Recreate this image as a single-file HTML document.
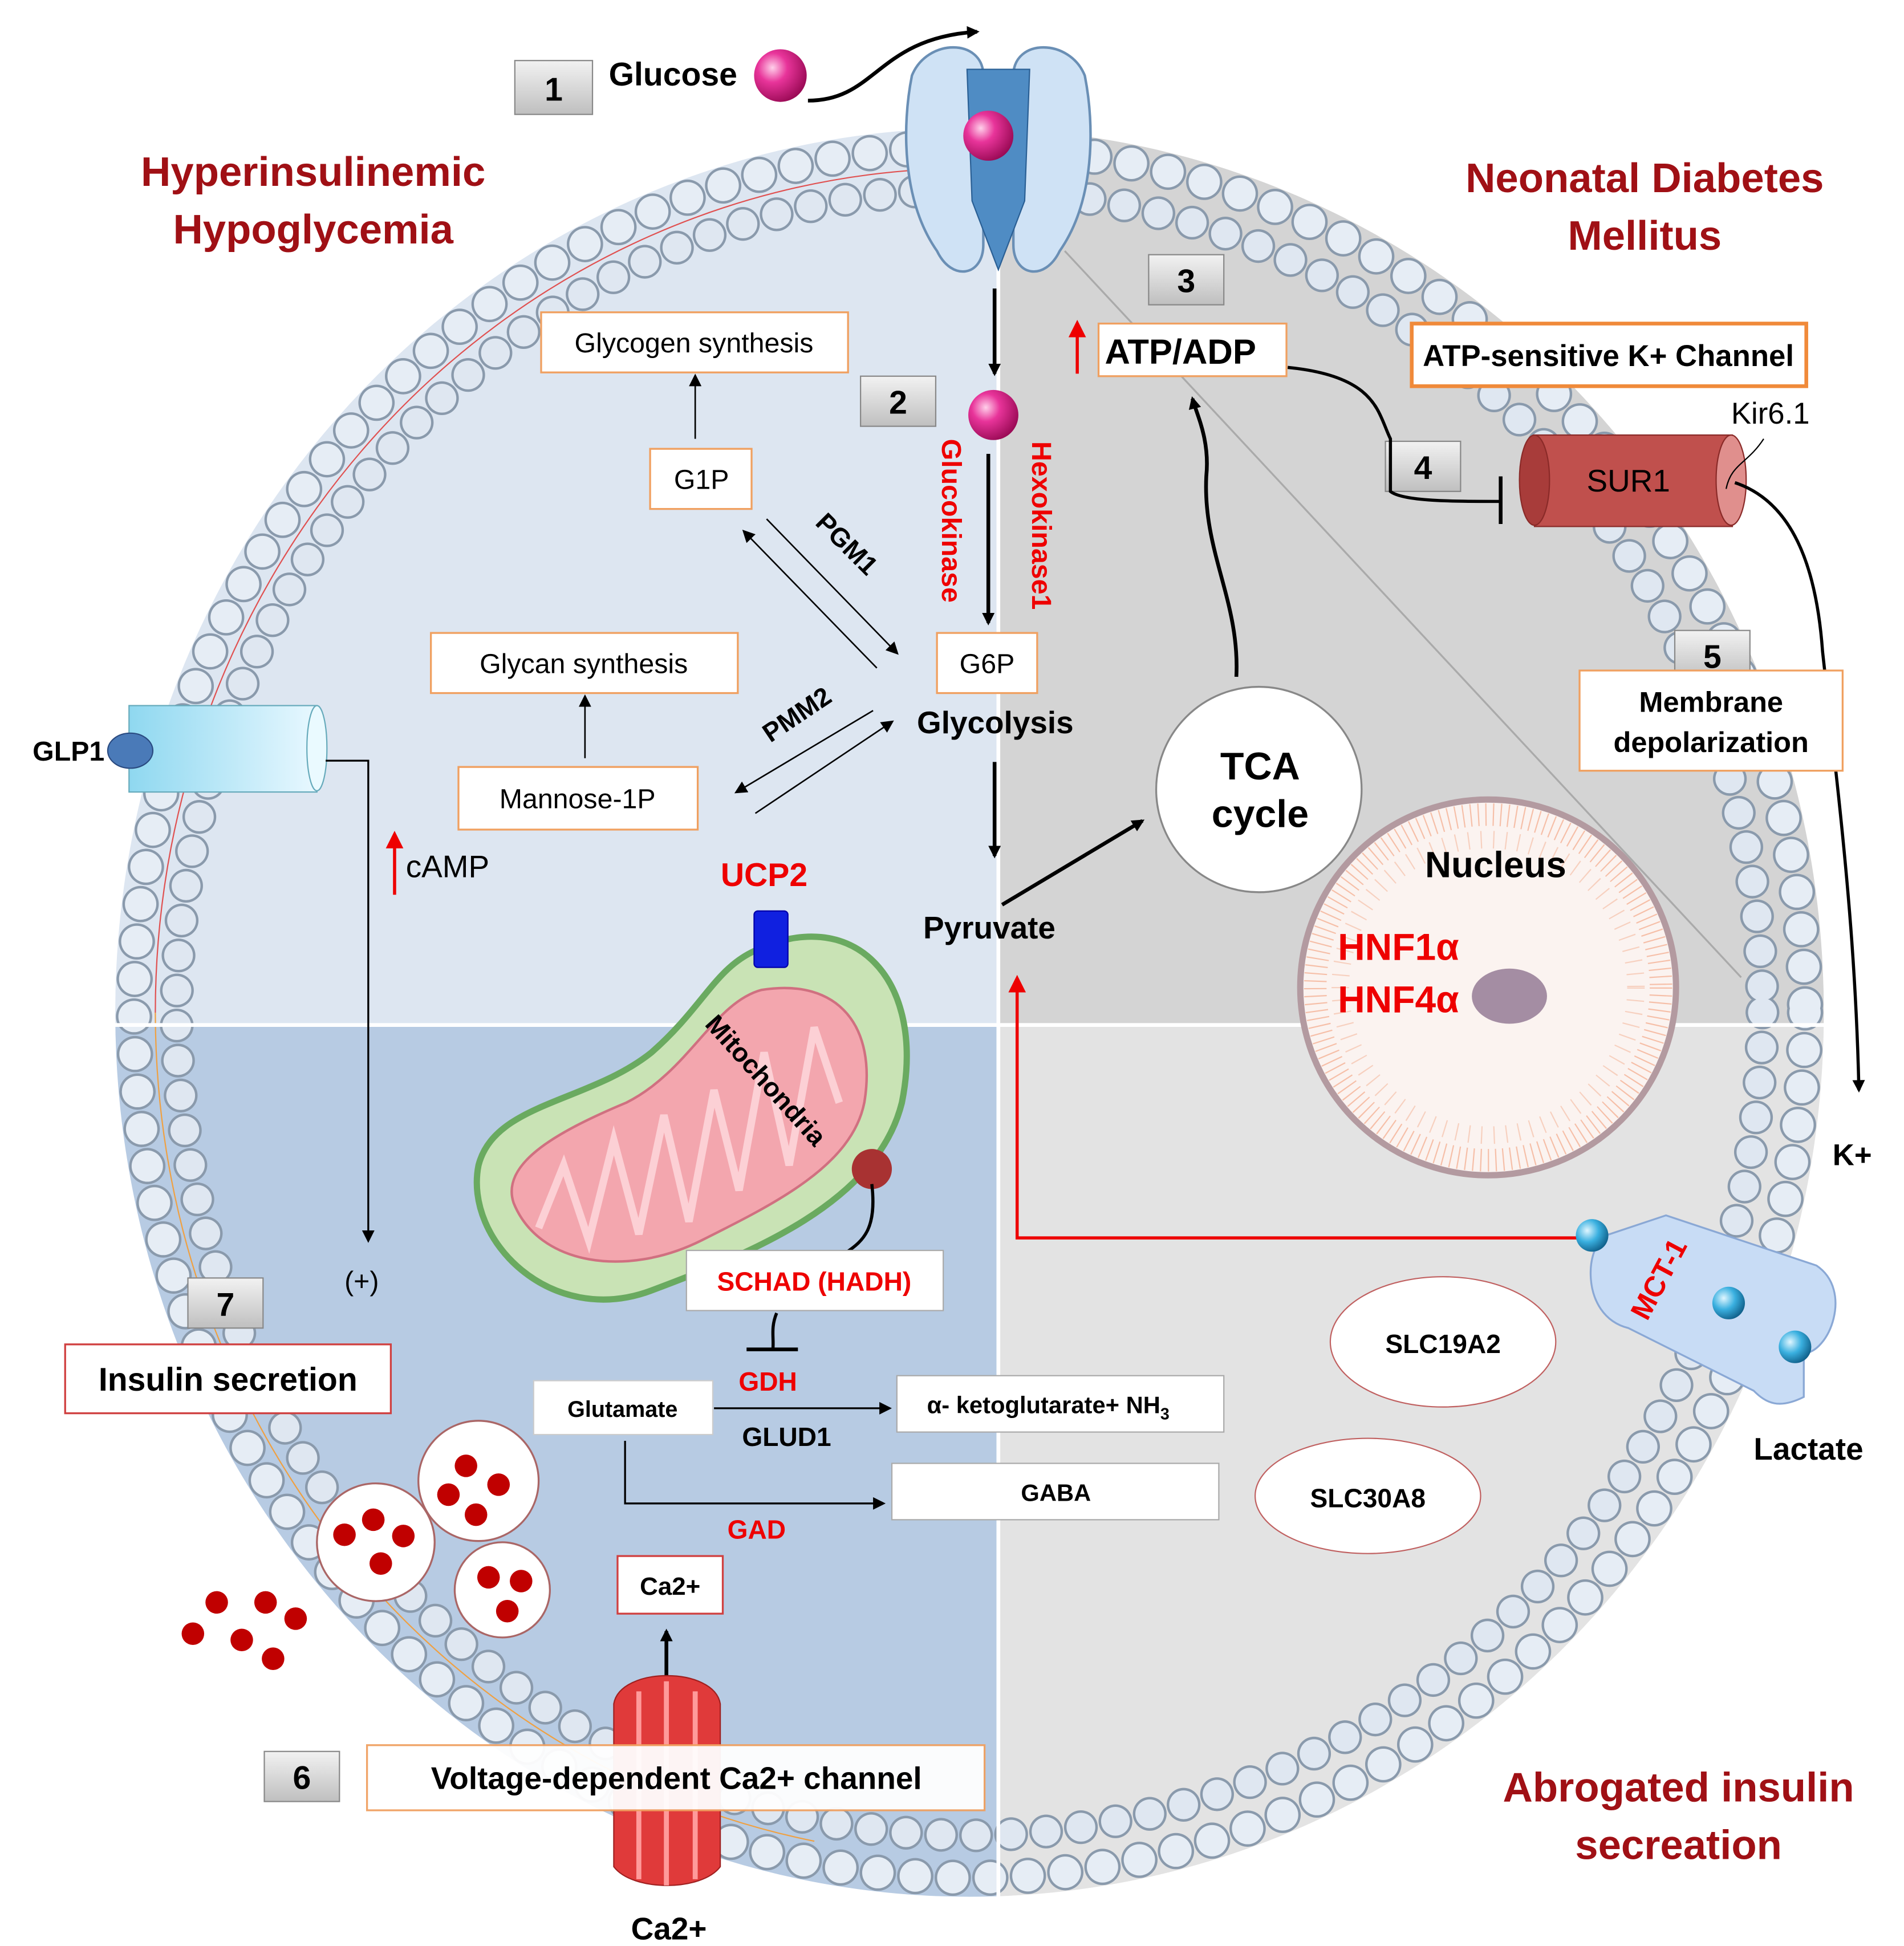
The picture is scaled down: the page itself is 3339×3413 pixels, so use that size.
<!DOCTYPE html>
<html><head><meta charset="utf-8"><style>
html,body{margin:0;padding:0;background:#fff;}
svg{display:block;}
text{font-family:"Liberation Sans",sans-serif;}
</style></head><body>
<svg width="3339" height="3413" viewBox="0 0 1520 1553" xmlns="http://www.w3.org/2000/svg">
<defs>
<clipPath id="cell"><ellipse cx="774" cy="808" rx="682" ry="706"/></clipPath>
<linearGradient id="bx" x1="0" y1="0" x2="0" y2="1"><stop offset="0" stop-color="#f2f2f2"/><stop offset="1" stop-color="#bfbfbf"/></linearGradient>
<linearGradient id="glp" x1="0" y1="0" x2="1" y2="0"><stop offset="0" stop-color="#8fd8f0"/><stop offset="1" stop-color="#e8f8ff"/></linearGradient>
<radialGradient id="pink" cx="0.35" cy="0.35" r="0.7"><stop offset="0" stop-color="#ffd0ea"/><stop offset="0.4" stop-color="#e8349a"/><stop offset="1" stop-color="#9a0a55"/></radialGradient>
<radialGradient id="blueb" cx="0.35" cy="0.35" r="0.7"><stop offset="0" stop-color="#e0f6ff"/><stop offset="0.5" stop-color="#3ab0e0"/><stop offset="1" stop-color="#10608a"/></radialGradient>
<marker id="ah" markerWidth="10" markerHeight="10" refX="8" refY="5" orient="auto" markerUnits="userSpaceOnUse"><path d="M0,0 L10,5 L0,10 z" fill="#000"/></marker>
<marker id="ahr" markerWidth="14" markerHeight="14" refX="7" refY="7" orient="auto" markerUnits="userSpaceOnUse"><path d="M0,0 L14,7 L0,14 z" fill="#e00"/></marker>
</defs>

<g clip-path="url(#cell)">
<rect x="0" y="0" width="797" height="818" fill="#dde6f1"/>
<rect x="797" y="0" width="800" height="818" fill="#d4d4d4"/>
<rect x="0" y="818" width="797" height="800" fill="#b7cbe3"/>
<rect x="797" y="818" width="800" height="800" fill="#e3e3e3"/>
</g>
<ellipse cx="774" cy="808" rx="667" ry="691" fill="none" stroke="#8a9aac" stroke-width="29" stroke-dasharray="0 30" stroke-linecap="round"/>
<ellipse cx="774" cy="808" rx="667" ry="691" fill="none" stroke="#e6edf5" stroke-width="25" stroke-dasharray="0 30" stroke-linecap="round"/>
<ellipse cx="774" cy="808" rx="633" ry="657" fill="none" stroke="#8a9aac" stroke-width="27" stroke-dasharray="0 28" stroke-linecap="round"/>
<ellipse cx="774" cy="808" rx="633" ry="657" fill="none" stroke="#dfe7f1" stroke-width="23" stroke-dasharray="0 28" stroke-linecap="round"/>
<ellipse cx="774" cy="808" rx="650" ry="674" fill="none" stroke="#e05050" stroke-width="1" pathLength="100" stroke-dasharray="0 50 24 26"/>
<ellipse cx="774" cy="808" rx="650" ry="674" fill="none" stroke="#f0a040" stroke-width="1" pathLength="100" stroke-dasharray="0 28 22 50"/>
<line x1="797" y1="818" x2="1460" y2="818" stroke="#fff" stroke-width="3"/>
<line x1="797" y1="120" x2="797" y2="1515" stroke="#fff" stroke-width="3"/>
<line x1="90" y1="818" x2="797" y2="818" stroke="#fff" stroke-width="3"/>
<line x1="850" y1="200" x2="1390" y2="780" stroke="#aaa" stroke-width="1.5"/>

<g font-weight="bold" fill="#a01015" font-size="33" text-anchor="middle">
<text x="250" y="148">Hyperinsulinemic</text><text x="250" y="194">Hypoglycemia</text>
<text x="1313" y="153">Neonatal Diabetes</text><text x="1313" y="199">Mellitus</text>
<text x="1340" y="1438">Abrogated insulin</text><text x="1340" y="1484">secreation</text>
</g>

<g font-weight="bold" font-size="26" text-anchor="middle">
<rect x="411" y="48" width="62" height="43" fill="url(#bx)" stroke="#888"/><text x="442" y="80">1</text>
<rect x="687" y="300" width="60" height="40" fill="url(#bx)" stroke="#888"/><text x="717" y="330">2</text>
<rect x="917" y="203" width="60" height="40" fill="url(#bx)" stroke="#888"/><text x="947" y="233">3</text>
<rect x="1106" y="352" width="60" height="40" fill="url(#bx)" stroke="#888"/><text x="1136" y="382">4</text>
<rect x="1337" y="503" width="60" height="40" fill="url(#bx)" stroke="#888"/><text x="1367" y="533">5</text>
<rect x="211" y="1398" width="60" height="40" fill="url(#bx)" stroke="#888"/><text x="241" y="1428">6</text>
<rect x="150" y="1020" width="60" height="40" fill="url(#bx)" stroke="#888"/><text x="180" y="1050">7</text>
</g>

<text x="486" y="68" font-size="26" font-weight="bold">Glucose</text>
<circle cx="623" cy="60" r="21" fill="url(#pink)"/>
<path d="M645,80 C700,80 700,30 780,25" fill="none" stroke="#000" stroke-width="3" marker-end="url(#ah)"/>
<path d="M728,60 C740,30 785,30 785,60 L785,195 C785,220 760,225 748,200 C720,160 720,100 728,60z" fill="#cfe2f5" stroke="#6a8fb5" stroke-width="2"/>
<path d="M866,60 C854,30 809,30 809,60 L809,195 C809,220 834,225 846,200 C874,160 874,100 866,60z" fill="#cfe2f5" stroke="#6a8fb5" stroke-width="2"/>
<path d="M772,55 L822,55 L818,160 L797,215 L776,160z" fill="#4f8cc4" stroke="#2a5f94"/>
<circle cx="789" cy="108" r="20" fill="url(#pink)"/>
<line x1="794" y1="230" x2="794" y2="298" stroke="#000" stroke-width="3" marker-end="url(#ah)"/>
<circle cx="793" cy="331" r="20" fill="url(#pink)"/>
<line x1="789" y1="362" x2="789" y2="497" stroke="#000" stroke-width="3" marker-end="url(#ah)"/>
<text transform="translate(752,350) rotate(90)" font-size="22" font-weight="bold" fill="#e00">Glucokinase</text>
<text transform="translate(824,352) rotate(90)" font-size="22" font-weight="bold" fill="#e00">Hexokinase1</text>

<g font-size="22" text-anchor="middle" fill="#000">
<rect x="432" y="249" width="245" height="48" fill="#fff" stroke="#f0a060" stroke-width="1.5"/><text x="554" y="281">Glycogen synthesis</text>
<rect x="519" y="358" width="81" height="48" fill="#fff" stroke="#f0a060" stroke-width="1.5"/><text x="560" y="390">G1P</text>
<rect x="344" y="505" width="245" height="48" fill="#fff" stroke="#f0a060" stroke-width="1.5"/><text x="466" y="537">Glycan synthesis</text>
<rect x="366" y="612" width="191" height="50" fill="#fff" stroke="#f0a060" stroke-width="1.5"/><text x="461" y="645">Mannose-1P</text>
<rect x="748" y="505" width="80" height="48" fill="#fff" stroke="#f0a060" stroke-width="1.5"/><text x="788" y="537">G6P</text>
</g>
<line x1="555" y1="350" x2="555" y2="300" stroke="#000" stroke-width="1.2" marker-end="url(#ah)"/>
<line x1="467" y1="605" x2="467" y2="556" stroke="#000" stroke-width="1.2" marker-end="url(#ah)"/>
<line x1="612" y1="414" x2="716" y2="521" stroke="#000" stroke-width="1.2" marker-end="url(#ah)"/>
<line x1="700" y1="533" x2="594" y2="424" stroke="#000" stroke-width="1.2" marker-end="url(#ah)"/>
<line x1="697" y1="567" x2="588" y2="632" stroke="#000" stroke-width="1.2" marker-end="url(#ah)"/>
<line x1="603" y1="649" x2="712" y2="576" stroke="#000" stroke-width="1.2" marker-end="url(#ah)"/>
<text transform="translate(650,418) rotate(45)" font-size="21" font-weight="bold">PGM1</text>
<text transform="translate(615,593) rotate(-34)" font-size="21" font-weight="bold">PMM2</text>
<text x="732" y="585" font-size="25" font-weight="bold">Glycolysis</text>
<line x1="794" y1="608" x2="794" y2="683" stroke="#000" stroke-width="3" marker-end="url(#ah)"/>
<text x="737" y="749" font-size="25" font-weight="bold">Pyruvate</text>
<line x1="800" y1="722" x2="912" y2="655" stroke="#000" stroke-width="3" marker-end="url(#ah)"/>
<circle cx="1005" cy="630" r="82" fill="#fff" stroke="#888" stroke-width="1.5"/>
<text x="1006" y="622" font-size="31" font-weight="bold" text-anchor="middle">TCA</text>
<text x="1006" y="660" font-size="31" font-weight="bold" text-anchor="middle">cycle</text>
<path d="M987,540 C990,480 960,440 963,380 C966,350 955,330 952,318" fill="none" stroke="#000" stroke-width="3" marker-end="url(#ah)"/>

<line x1="860" y1="298" x2="860" y2="262" stroke="#e00" stroke-width="2.5" marker-end="url(#ahr)"/>
<rect x="877" y="258" width="150" height="42" fill="#fff" stroke="#f0a060" stroke-width="1.5"/>
<text x="882" y="290" font-size="28" font-weight="bold">ATP/ADP</text>
<rect x="1127" y="258" width="315" height="50" fill="#fff" stroke="#f08a3a" stroke-width="3"/>
<text x="1284" y="292" font-size="24" font-weight="bold" text-anchor="middle">ATP-sensitive K+ Channel</text>
<path d="M1028,293 C1100,300 1100,330 1110,350 L1110,392 C1120,400 1160,400 1198,400" fill="none" stroke="#000" stroke-width="2.5"/>
<line x1="1198" y1="380" x2="1198" y2="418" stroke="#000" stroke-width="3"/>
<rect x="1225" y="347" width="158" height="73" fill="#c0504d" stroke="#8a2a28"/>
<ellipse cx="1225" cy="383" rx="12" ry="36" fill="#a83c3a" stroke="#8a2a28"/>
<ellipse cx="1382" cy="383" rx="12" ry="36" fill="#e08f8d" stroke="#8a2a28"/>
<text x="1300" y="392" font-size="25" text-anchor="middle">SUR1</text>
<text x="1382" y="338" font-size="24">Kir6.1</text>
<path d="M1378,390 C1382,370 1395,370 1408,350" fill="none" stroke="#000" stroke-width="1"/>
<path d="M1385,385 C1430,400 1450,450 1455,520 L1465,610 C1475,700 1482,780 1484,870" fill="none" stroke="#000" stroke-width="2.5" marker-end="url(#ah)"/>
<text x="1463" y="930" font-size="24" font-weight="bold">K+</text>
<rect x="1261" y="535" width="210" height="80" fill="#fff" stroke="#f0a060" stroke-width="1.5"/>
<text x="1366" y="568" font-size="23" font-weight="bold" text-anchor="middle">Membrane</text>
<text x="1366" y="600" font-size="23" font-weight="bold" text-anchor="middle">depolarization</text>

<circle cx="1188" cy="788" r="150" fill="#fbf3f0" stroke="#b39aa0" stroke-width="5"/>
<circle cx="1188" cy="788" r="138" fill="none" stroke="#f08050" stroke-width="18" stroke-dasharray="1 5" opacity="0.45"/>
<circle cx="1188" cy="788" r="118" fill="none" stroke="#f08050" stroke-width="14" stroke-dasharray="1 9" opacity="0.3"/>
<ellipse cx="1205" cy="795" rx="30" ry="22" fill="#6a4a70" opacity="0.6"/>
<text x="1194" y="700" font-size="29" font-weight="bold" text-anchor="middle">Nucleus</text>
<text x="1068" y="766" font-size="30" font-weight="bold" fill="#e00">HNF1α</text>
<text x="1068" y="808" font-size="30" font-weight="bold" fill="#e00">HNF4α</text>

<rect x="103" y="563" width="150" height="69" fill="url(#glp)" stroke="#6ab"/>
<ellipse cx="253" cy="597" rx="8" ry="34" fill="#eafaff" stroke="#6ab"/>
<ellipse cx="104" cy="599" rx="18" ry="14" fill="#4a7ab8" stroke="#2a4a80"/>
<text x="26" y="607" font-size="22" font-weight="bold">GLP1</text>
<path d="M260,607 L294,607 L294,990" fill="none" stroke="#000" stroke-width="1.5" marker-end="url(#ah)"/>
<text x="275" y="1030" font-size="22">(+)</text>
<line x1="315" y1="714" x2="315" y2="670" stroke="#e00" stroke-width="2.5" marker-end="url(#ahr)"/>
<text x="324" y="700" font-size="25">cAMP</text>

<text x="610" y="707" font-size="26" font-weight="bold" fill="#e00" text-anchor="middle">UCP2</text>
<path d="M600,760 C680,720 740,780 720,880 C700,960 600,1000 520,1030 C440,1060 370,990 382,930 C395,880 470,880 520,840 C560,805 570,775 600,760z" fill="#c9e3b5" stroke="#6aaa60" stroke-width="5"/>
<path d="M608,790 C670,780 700,820 690,880 C680,930 620,960 560,990 C500,1020 430,1010 410,960 C400,930 440,905 500,880 C550,855 570,800 608,790z" fill="#f3a6ae" stroke="#d07080" stroke-width="2"/>
<path d="M430,980 L450,930 L470,990 L490,910 L510,985 L530,890 L550,975 L570,870 L590,950 L610,840 L630,930 L650,820 L670,880" fill="none" stroke="#fcd0d5" stroke-width="6"/>
<rect x="602" y="727" width="27" height="45" fill="#1020e0" stroke="#00a" rx="3"/>
<text transform="translate(562,818) rotate(48)" font-size="21" font-weight="bold">Mitochondria</text>
<circle cx="696" cy="933" r="16" fill="#a83232"/>
<path d="M696,945 C700,980 690,990 675,1000" fill="none" stroke="#000" stroke-width="2.5"/>
<rect x="548" y="998" width="205" height="48" fill="#fff" stroke="#aaa"/>
<text x="650" y="1030" font-size="21" font-weight="bold" fill="#e00" text-anchor="middle">SCHAD (HADH)</text>
<path d="M620,1048 C615,1060 618,1068 617,1077" fill="none" stroke="#000" stroke-width="2.5"/>
<line x1="596" y1="1077" x2="637" y2="1077" stroke="#000" stroke-width="3"/>
<text x="613" y="1110" font-size="21" font-weight="bold" fill="#e00" text-anchor="middle">GDH</text>
<rect x="426" y="1102" width="143" height="43" fill="#fff" stroke="#ccc"/>
<text x="497" y="1131" font-size="18" font-weight="bold" text-anchor="middle">Glutamate</text>
<line x1="570" y1="1124" x2="710" y2="1124" stroke="#000" stroke-width="1.5" marker-end="url(#ah)"/>
<text x="628" y="1154" font-size="21" font-weight="bold" text-anchor="middle">GLUD1</text>
<rect x="716" y="1098" width="261" height="45" fill="#fff" stroke="#aaa"/>
<text x="740" y="1128" font-size="19" font-weight="bold">α- ketoglutarate+ NH<tspan font-size="13" dy="5">3</tspan></text>
<path d="M499,1150 L499,1200 L705,1200" fill="none" stroke="#000" stroke-width="1.5" marker-end="url(#ah)"/>
<rect x="712" y="1168" width="261" height="45" fill="#fff" stroke="#aaa"/>
<text x="843" y="1198" font-size="19" font-weight="bold" text-anchor="middle">GABA</text>
<text x="604" y="1228" font-size="21" font-weight="bold" fill="#e00" text-anchor="middle">GAD</text>

<path d="M1260,988 L812,988 L812,785" fill="none" stroke="#e00" stroke-width="2.5" marker-end="url(#ahr)"/>
<path d="M1285,985 L1330,970 L1450,1010 C1480,1030 1460,1080 1440,1080 L1440,1115 C1420,1125 1410,1120 1400,1110 L1300,1060 C1260,1050 1265,990 1285,985z" fill="#c8dcf5" stroke="#8aa8d5" stroke-width="1.5"/>
<circle cx="1271" cy="986" r="13" fill="url(#blueb)"/>
<circle cx="1380" cy="1040" r="13" fill="url(#blueb)"/>
<circle cx="1433" cy="1075" r="13" fill="url(#blueb)"/>
<text transform="translate(1315,1055) rotate(-62)" font-size="23" font-weight="bold" fill="#e00">MCT-1</text>
<text x="1400" y="1165" font-size="25" font-weight="bold">Lactate</text>
<ellipse cx="1152" cy="1071" rx="90" ry="52" fill="#fff" stroke="#c06060"/>
<text x="1152" y="1080" font-size="21" font-weight="bold" text-anchor="middle">SLC19A2</text>
<ellipse cx="1092" cy="1194" rx="90" ry="46" fill="#fff" stroke="#c06060"/>
<text x="1092" y="1203" font-size="21" font-weight="bold" text-anchor="middle">SLC30A8</text>

<rect x="52" y="1073" width="260" height="55" fill="#fff" stroke="#d04040" stroke-width="1.5"/>
<text x="182" y="1110" font-size="26" font-weight="bold" text-anchor="middle">Insulin secretion</text>
<g stroke="#a66" stroke-width="1.5" fill="#fff">
<circle cx="382" cy="1182" r="48"/><circle cx="300" cy="1231" r="47"/><circle cx="401" cy="1269" r="38"/>
</g>
<g fill="#c00000">
<circle cx="372" cy="1170" r="9"/><circle cx="398" cy="1185" r="9"/><circle cx="358" cy="1193" r="9"/><circle cx="380" cy="1209" r="9"/>
<circle cx="275" cy="1225" r="9"/><circle cx="298" cy="1213" r="9"/><circle cx="322" cy="1226" r="9"/><circle cx="304" cy="1248" r="9"/>
<circle cx="390" cy="1259" r="9"/><circle cx="416" cy="1262" r="9"/><circle cx="405" cy="1286" r="9"/>
<circle cx="173" cy="1279" r="9"/><circle cx="212" cy="1279" r="9"/><circle cx="236" cy="1292" r="9"/><circle cx="154" cy="1304" r="9"/><circle cx="193" cy="1309" r="9"/><circle cx="218" cy="1324" r="9"/>
</g>
<rect x="493" y="1242" width="84" height="46" fill="#fff" stroke="#d04040" stroke-width="1.5"/>
<text x="535" y="1273" font-size="20" font-weight="bold" text-anchor="middle">Ca2+</text>
<line x1="532" y1="1340" x2="532" y2="1302" stroke="#000" stroke-width="3" marker-end="url(#ah)"/>
<path d="M490,1360 C495,1330 570,1330 575,1360 L575,1490 C560,1510 505,1510 490,1490z" fill="#e03a3a" stroke="#a02020"/>
<path d="M510,1350 L510,1500 M532,1342 L532,1505 M555,1350 L555,1500" stroke="#ff9a9a" stroke-width="4"/>
<rect x="293" y="1393" width="493" height="52" fill="#fff" stroke="#f0a060" stroke-width="1.5" opacity="0.95"/>
<text x="540" y="1428" font-size="25" font-weight="bold" text-anchor="middle">Voltage-dependent Ca2+ channel</text>
<text x="534" y="1548" font-size="25" font-weight="bold" text-anchor="middle">Ca2+</text>
</svg>
</body></html>
